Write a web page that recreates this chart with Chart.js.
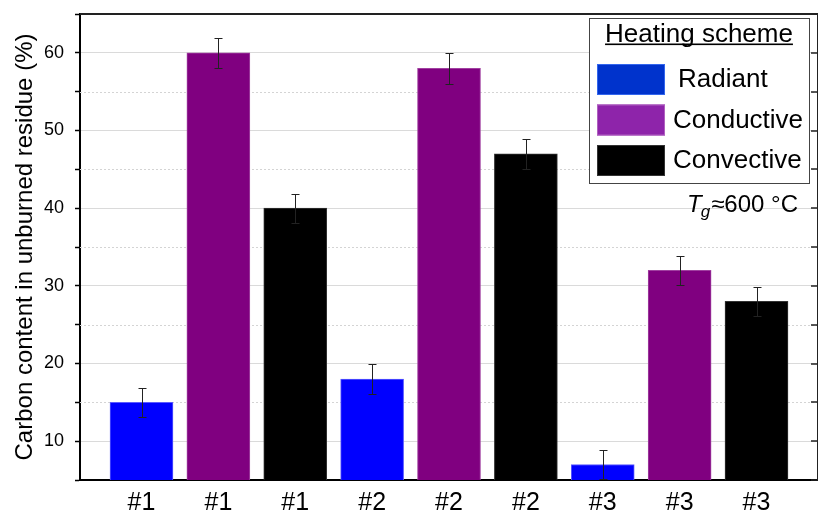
<!DOCTYPE html>
<html><head><meta charset="utf-8">
<script src="https://cdn.jsdelivr.net/npm/chart.js@4/dist/chart.umd.min.js"></script>
<style>html,body{margin:0;padding:0;background:#fff}#wrap{width:818px;height:514px}</style>
</head><body><div id="wrap"><canvas id="c" width="818" height="514"></canvas></div>
<script>
const samples = ['#1', '#2', '#3'];
const schemes = ['Radiant', 'Conductive', 'Convective'];
const radiantValues = [15, 18, 7];
const conductiveValues = [60, 58, 32];
const convectiveValues = [40, 47, 28];
const radiantErrors = [1.9, 1.95, 1.9];
const conductiveErrors = [1.9, 1.95, 1.85];
const convectiveErrors = [1.85, 1.9, 1.85];
const yMajorTicks = [10, 20, 30, 40, 50, 60];
const yMinorTicks = [5, 15, 25, 35, 45, 55, 65];
const yAxisTitle = 'Carbon content in unburned residue (%)';
const legendTitle = 'Heating scheme';
const noteSymbol = 'T';
const noteSub = 'g';
const noteText = '≈600 °C';

const FONT = '"Liberation Sans", Arial, sans-serif';
const seriesValues = [radiantValues, conductiveValues, convectiveValues];
const seriesErrors = [radiantErrors, conductiveErrors, convectiveErrors];
const barColors = ['#0000ff', '#800080', '#000000'];
const barBorders = ['#5a5aff', '#a040a0', '#333333'];
const legendColors = ['#0033cc', '#8e24aa', '#000000'];
const legendBorders = ['#3366ee', '#b060c0', '#333333'];

const xLabels = [];
samples.forEach(s => schemes.forEach(() => xLabels.push(s)));
const nS = schemes.length;

const datasets = schemes.map((name, k) => ({
  label: name,
  data: seriesValues[k].map((v, i) => ({ x: i * nS + k, y: v })),
  backgroundColor: barColors[k],
  borderColor: barBorders[k],
  borderWidth: 1,
  barThickness: 63,
  grouped: false
}));

const bgPlugin = {
  id: 'bg',
  beforeDraw(chart) {
    const c = chart.ctx; c.save(); c.fillStyle = '#fff';
    c.fillRect(0, 0, chart.width, chart.height); c.restore();
  }
};

const framePlugin = {
  id: 'frame',
  beforeDatasetsDraw(chart) {
    const { ctx, chartArea: a, scales: { y } } = chart;
    ctx.save();
    ctx.strokeStyle = '#d4d4d4';
    ctx.lineWidth = 1;
    ctx.setLineDash([2, 2]);
    yMinorTicks.forEach(v => {
      if (v <= y.min || v >= y.max) return;
      const py = Math.round(y.getPixelForValue(v)) + 0.5;
      ctx.beginPath(); ctx.moveTo(a.left, py); ctx.lineTo(a.right, py); ctx.stroke();
    });
    ctx.restore();
  },
  afterDatasetsDraw(chart) {
    const { ctx, chartArea: a, scales: { y } } = chart;
    ctx.save();
    ctx.strokeStyle = '#222';
    ctx.lineWidth = 1;
    seriesValues.forEach((vals, k) => {
      const meta = chart.getDatasetMeta(k);
      vals.forEach((v, i) => {
        const e = seriesErrors[k][i];
        const px = Math.round(meta.data[i].x) + 0.5;
        const t = Math.round(y.getPixelForValue(v + e)) + 0.5;
        const b = Math.round(y.getPixelForValue(Math.max(v - e, y.min))) + 0.5;
        ctx.beginPath();
        ctx.moveTo(px, t); ctx.lineTo(px, b);
        ctx.moveTo(px - 4, t); ctx.lineTo(px + 4, t);
        ctx.moveTo(px - 4, b); ctx.lineTo(px + 4, b);
        ctx.stroke();
      });
    });
    ctx.strokeStyle = '#222';
    ctx.lineWidth = 2;
    ctx.beginPath();
    ctx.moveTo(a.left, a.top); ctx.lineTo(a.right, a.top);
    ctx.moveTo(a.right, a.top); ctx.lineTo(a.right, a.bottom);
    ctx.stroke();
    ctx.lineWidth = 1.5;
    yMajorTicks.concat(yMinorTicks).forEach(v => {
      const py = Math.round(y.getPixelForValue(v));
      ctx.beginPath(); ctx.moveTo(a.right - 7, py); ctx.lineTo(a.right, py); ctx.stroke();
    });
    ctx.restore();
  },
  afterDraw(chart) {
    const { ctx, chartArea: a } = chart;
    ctx.save();
    const L = a.right - 229, T = a.top + 4, W = 220, H = 165;
    ctx.fillStyle = '#fff';
    ctx.fillRect(L, T, W, H);
    ctx.strokeStyle = '#444';
    ctx.lineWidth = 1;
    ctx.strokeRect(L + 0.5, T + 0.5, W, H);
    ctx.fillStyle = '#000';
    ctx.font = '26px ' + FONT;
    ctx.textBaseline = 'alphabetic';
    ctx.textAlign = 'center';
    const cx = L + 110;
    ctx.fillText(legendTitle, cx, T + 24);
    const tw = ctx.measureText(legendTitle).width;
    ctx.fillRect(cx - tw / 2, T + 25.5, tw, 1.6);
    ctx.textAlign = 'left';
    ctx.textBaseline = 'middle';
    schemes.forEach((name, k) => {
      const ry = T + 46 + k * 40.5;
      ctx.fillStyle = legendColors[k];
      ctx.fillRect(L + 8, ry, 68, 31);
      ctx.strokeStyle = legendBorders[k];
      ctx.strokeRect(L + 8.5, ry + 0.5, 67, 30);
      ctx.fillStyle = '#000';
      ctx.fillText(name, k === 0 ? L + 89 : L + 84, ry + 16);
    });
    ctx.textBaseline = 'alphabetic';
    ctx.font = 'italic 24px ' + FONT;
    const w1 = ctx.measureText(noteSymbol).width;
    ctx.font = 'italic 17px ' + FONT;
    const w2 = ctx.measureText(noteSub).width;
    ctx.font = '24px ' + FONT;
    const w3 = ctx.measureText(noteText).width;
    let nx = a.right - 20 - (w1 + w2 + w3);
    const base = a.top + 197.5;
    ctx.font = 'italic 24px ' + FONT;
    ctx.fillText(noteSymbol, nx, base); nx += w1 - 1;
    ctx.font = 'italic 17px ' + FONT;
    ctx.fillText(noteSub, nx, base + 5); nx += w2 + 1;
    ctx.font = '24px ' + FONT;
    ctx.fillText(noteText, nx, base);
    ctx.restore();
  }
};

new Chart(document.getElementById('c'), {
  type: 'bar',
  data: { datasets },
  options: {
    responsive: false,
    animation: false,
    events: [],
    layout: { padding: { left: 0, right: 0, top: 14, bottom: 0 } },
    plugins: { legend: { display: false }, tooltip: { enabled: false } },
    scales: {
      x: {
        type: 'linear',
        offset: false,
        min: -0.8,
        max: xLabels.length - 1 + 0.8,
        afterBuildTicks: s => { s.ticks = xLabels.map((_, i) => ({ value: i })); },
        afterFit: s => { s.height = 34; s.paddingLeft = 0; s.paddingRight = 0; },
        ticks: {
          autoSkip: false, maxRotation: 0, padding: 8,
          color: '#000', font: { size: 25, family: FONT },
          callback: (v, i) => xLabels[i]
        },
        grid: { display: false, drawTicks: false, offset: false },
        border: { display: true, color: '#000', width: 2 }
      },
      y: {
        min: 5, max: 65,
        afterBuildTicks: s => {
          s.ticks = yMajorTicks.concat(yMinorTicks).sort((p, q) => p - q).map(v => ({ value: v }));
        },
        afterFit: s => { s.width = 80; s.paddingTop = 0; s.paddingBottom = 0; },
        ticks: {
          padding: 11, color: '#000', font: { size: 18, family: FONT },
          callback: v => (yMajorTicks.includes(v) ? String(v) : '')
        },
        grid: {
          color: c => (yMajorTicks.includes(c.tick.value) ? '#dadada' : 'rgba(0,0,0,0)'),
          lineWidth: 1,
          tickColor: '#000', tickLength: 5, tickWidth: 1.5
        },
        border: { color: '#000', width: 2 },
        title: {
          display: true, text: yAxisTitle, color: '#000',
          font: { size: 24, family: FONT }, padding: { top: 11, bottom: 0 }
        }
      }
    }
  },
  plugins: [bgPlugin, framePlugin]
});
</script>
</body></html>
